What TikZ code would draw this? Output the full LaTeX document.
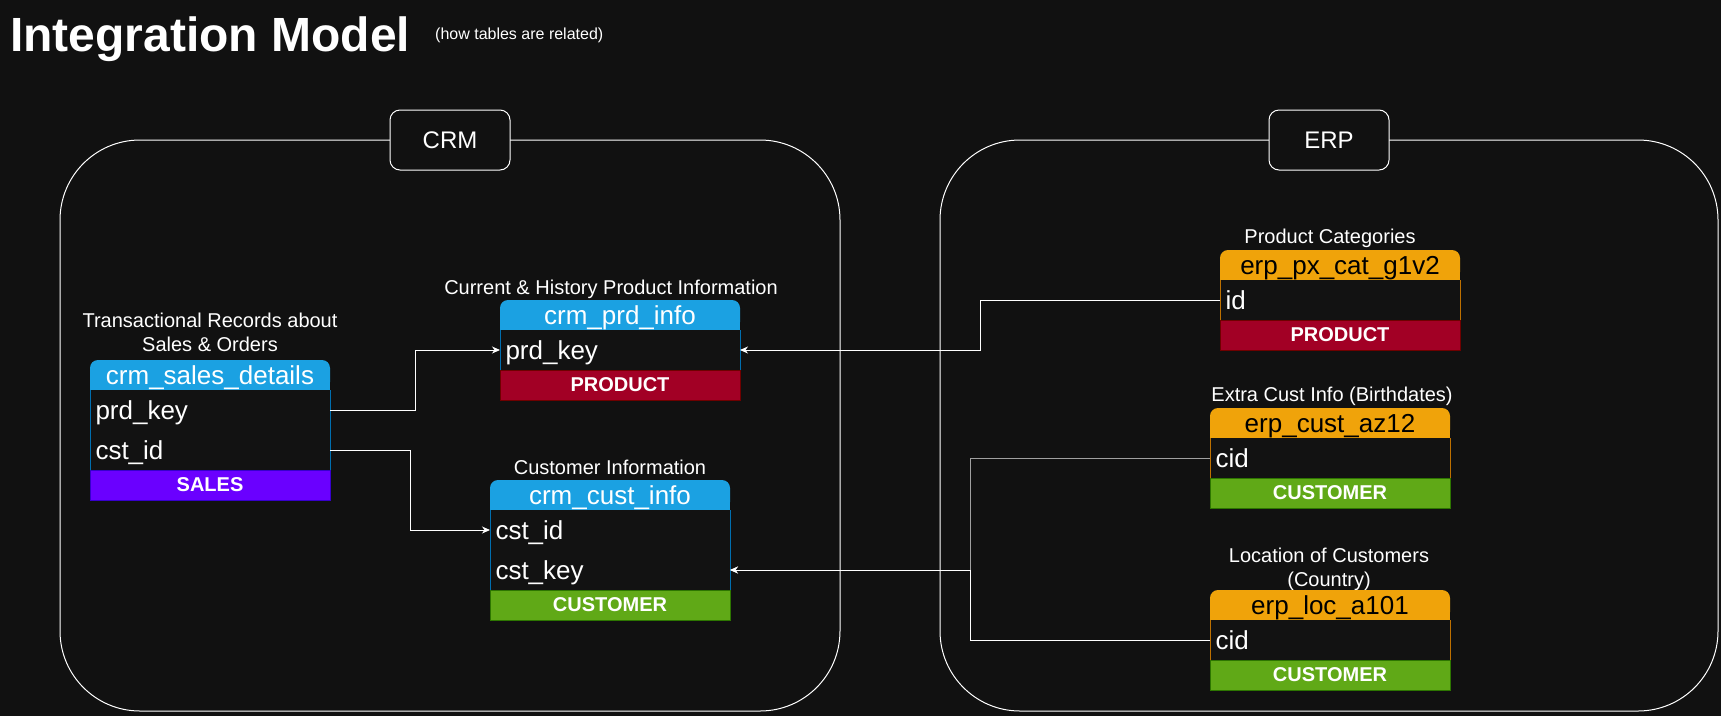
\documentclass[tikz,border=0pt]{standalone}
\usepackage{fontspec}
\setmainfont{Liberation Sans}
\usetikzlibrary{positioning,arrows.meta,backgrounds}
\definecolor{bgdark}{HTML}{111111}
\definecolor{rowdark}{HTML}{121212}
\definecolor{crmblue}{HTML}{1BA1E2}
\definecolor{crmblueline}{HTML}{006EAF}
\definecolor{erporange}{HTML}{F0A30A}
\definecolor{erporangeline}{HTML}{BD7000}
\definecolor{custgreen}{HTML}{60A917}
\definecolor{custgreenline}{HTML}{2D7600}
\definecolor{prodred}{HTML}{A20025}
\definecolor{prodredline}{HTML}{6F0000}
\definecolor{salespurple}{HTML}{6A00FF}
\definecolor{salespurpleline}{HTML}{3700CC}
\definecolor{linkgray}{HTML}{A0A0A0}
\begin{document}
\begin{tikzpicture}[x=1pt, y=-1pt]
\tikzstyle{zone} = [draw=white, line width=1pt, rounded corners=80pt, inner sep=0pt, outer sep=0pt]
\tikzstyle{zonelabel} = [draw=white, fill=bgdark, line width=1pt, rounded corners=10pt, minimum width=120pt, minimum height=60pt, text=white, font=\fontsize{24}{28}\selectfont]
\tikzstyle{tblhead} = [minimum width=240pt, minimum height=30pt, inner sep=0pt, outer sep=0pt, rounded corners=8pt, anchor=north west, text height=23.5pt, text depth=5.5pt, font=\fontsize{26}{30}\selectfont]
\tikzstyle{tblrow} = [minimum width=240pt, minimum height=40pt, text width=229pt, inner xsep=5.5pt, inner ysep=0pt, outer sep=0pt, align=left, fill=rowdark, text=white, text height=23.5pt, text depth=5.5pt, font=\fontsize{26}{30}\selectfont]
\tikzstyle{tblfoot} = [minimum width=240pt, minimum height=30pt, inner sep=0pt, outer sep=0pt, line width=1pt, text=white, text height=18.1pt, text depth=4.2pt, font=\bfseries\fontsize{20}{24}\selectfont]
\tikzstyle{note} = [text=white, align=center, inner sep=0pt, anchor=base, font=\fontsize{20}{24}\selectfont]
\tikzstyle{link} = [draw=white, line width=1pt, -{Stealth[length=8pt,width=7pt,inset=2.5pt]}]
\useasboundingbox (0,0) rectangle (1721,716);
\begin{scope}[on background layer]
\fill[bgdark] (0,0) rectangle (1721,716);
\end{scope}

% title
\node[anchor=base west, inner sep=0pt, text=white, font=\bfseries\fontsize{48}{56}\selectfont] (title) at (10,51) {Integration Model};
\node[anchor=base west, inner sep=0pt, text=white, font=\fontsize{16}{19}\selectfont] (subtitle) at (435,39) {(how tables are related)};

% source systems
\node[zone, anchor=north west, minimum width=780pt, minimum height=571pt] (crm) at (60,140) {};
\node[zonelabel] (crmlabel) at (crm.north) {CRM};
\node[zone, anchor=north west, minimum width=778pt, minimum height=571pt] (erp) at (940,140) {};
\node[zonelabel] (erplabel) at (erp.north) {ERP};

% crm_sales_details
\node[note] (salesnote) at (210,351) {Transactional Records about\\Sales \& Orders};
\node[tblhead, fill=crmblue, text=white] (saleshead) at (90,360) {crm\_sales\_details};
\node[tblrow, below=0pt of saleshead] (salesprd) {prd\_key};
\node[tblrow, below=0pt of salesprd] (salescst) {cst\_id};
\node[tblfoot, fill=salespurple, draw=salespurpleline, below=0pt of salescst] (salesfoot) {SALES};
\draw[crmblueline, line width=1pt] (saleshead.south west) -- (salesfoot.north west) (saleshead.south east) -- (salesfoot.north east);

% crm_prd_info
\node[note] (prdnote) at (611,294) {Current \& History Product Information};
\node[tblhead, fill=crmblue, text=white] (prdhead) at (500,300) {crm\_prd\_info};
\node[tblrow, below=0pt of prdhead] (prdkey) {prd\_key};
\node[tblfoot, fill=prodred, draw=prodredline, below=0pt of prdkey] (prdfoot) {PRODUCT};
\draw[crmblueline, line width=1pt] (prdhead.south west) -- (prdfoot.north west) (prdhead.south east) -- (prdfoot.north east);

% crm_cust_info
\node[note] (custnote) at (610,474) {Customer Information};
\node[tblhead, fill=crmblue, text=white] (custhead) at (490,480) {crm\_cust\_info};
\node[tblrow, below=0pt of custhead] (custid) {cst\_id};
\node[tblrow, below=0pt of custid] (custkey) {cst\_key};
\node[tblfoot, fill=custgreen, draw=custgreenline, below=0pt of custkey] (custfoot) {CUSTOMER};
\draw[crmblueline, line width=1pt] (custhead.south west) -- (custfoot.north west) (custhead.south east) -- (custfoot.north east);

% erp_px_cat_g1v2
\node[note] (pxnote) at (1330,243) {Product Categories};
\node[tblhead, fill=erporange, text=black] (pxhead) at (1220,250) {erp\_px\_cat\_g1v2};
\node[tblrow, below=0pt of pxhead] (pxid) {id};
\node[tblfoot, fill=prodred, draw=prodredline, below=0pt of pxid] (pxfoot) {PRODUCT};
\draw[erporangeline, line width=1pt] (pxhead.south west) -- (pxfoot.north west) (pxhead.south east) -- (pxfoot.north east);

% erp_cust_az12
\node[note] (aznote) at (1332,401) {Extra Cust Info (Birthdates)};
\node[tblhead, fill=erporange, text=black] (azhead) at (1210,408) {erp\_cust\_az12};
\node[tblrow, below=0pt of azhead] (azcid) {cid};
\node[tblfoot, fill=custgreen, draw=custgreenline, below=0pt of azcid] (azfoot) {CUSTOMER};
\draw[erporangeline, line width=1pt] (azhead.south west) -- (azfoot.north west) (azhead.south east) -- (azfoot.north east);

% erp_loc_a101
\node[note] (locnote) at (1329,586) {Location of Customers\\(Country)};
\node[tblhead, fill=erporange, text=black] (lochead) at (1210,590) {erp\_loc\_a101};
\node[tblrow, below=0pt of lochead] (loccid) {cid};
\node[tblfoot, fill=custgreen, draw=custgreenline, below=0pt of loccid] (locfoot) {CUSTOMER};
\draw[erporangeline, line width=1pt] (lochead.south west) -- (locfoot.north west) (lochead.south east) -- (locfoot.north east);

% square off the bottom of the headers
\begin{scope}[on background layer]
\fill[crmblue] (saleshead.west) rectangle (saleshead.south east);
\fill[crmblue] (prdhead.west) rectangle (prdhead.south east);
\fill[crmblue] (custhead.west) rectangle (custhead.south east);
\fill[erporange] (pxhead.west) rectangle (pxhead.south east);
\fill[erporange] (azhead.west) rectangle (azhead.south east);
\fill[erporange] (lochead.west) rectangle (lochead.south east);
\end{scope}

% relations
\draw[link] (salesprd.east) -- ++(85,0) |- (prdkey.west);
\draw[link] (salescst.east) -- ++(80,0) |- (custid.west);
\draw[link] (pxid.west) -- ++(-240,0) |- (prdkey.east);
\draw[link, draw=linkgray] (azcid.west) -- ++(-240,0) |- (custkey.east);
\draw[link] (loccid.west) -- ++(-240,0) |- (custkey.east);
\end{tikzpicture}
\end{document}
